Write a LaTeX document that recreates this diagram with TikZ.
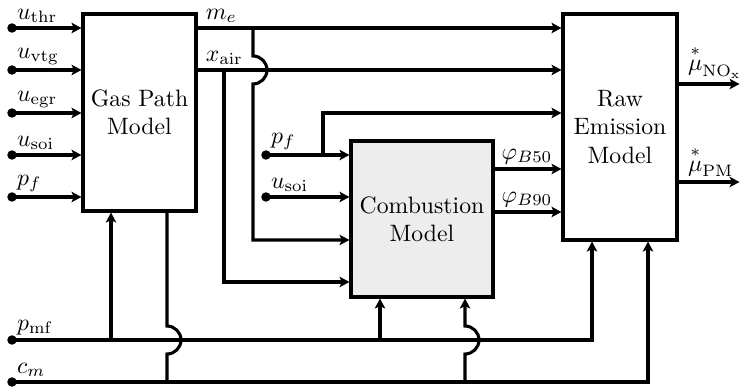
\documentclass[tikz,border=0pt]{standalone}
\usepackage{amsmath}
\usetikzlibrary{arrows.meta}
\begin{document}
\begin{tikzpicture}[x=0.422pt,y=-0.422pt,
  line width=1.3pt,
  arr/.style={-{Stealth[length=4.2pt,width=4.4pt,inset=1pt]}},
  blk/.style={draw,line width=1.3pt,inner sep=0pt,align=center},
  lab/.style={inner sep=1.5pt,anchor=south west},
  dot/.style={circle,fill,inner sep=0pt,minimum size=4pt}]
\useasboundingbox (0,0) rectangle (740,387);
% blocks
\node[blk,minimum width={113*0.422pt},minimum height={197*0.422pt}] (gas) at (139.5,112.5) {Gas Path\\Model};
\node[blk,minimum width={114*0.422pt},minimum height={226*0.422pt}] (raw) at (620,127) {Raw\\Emission\\Model};
\node[blk,fill=black!7,minimum width={142*0.422pt},minimum height={156*0.422pt}] (comb) at (422,219) {Combustion\\Model};
% left inputs
\foreach \n/\y/\t in {uthr/28/{u_{\mathrm{thr}}},uvtg/70/{u_{\mathrm{vtg}}},uegr/113/{u_{\mathrm{egr}}},usoi/155/{u_{\mathrm{soi}}},pf/197/{p_f}}{
  \node[dot] (\n) at (12,\y) {};
  \node[lab] (\n l) at (\n.center) {$\t$};
  \draw[arr] (\n.center) -- (\n.center -| gas.west);
}
% gas path outputs
\coordinate (me) at (196,28);
\coordinate (xair) at (196,70);
\node[lab] (mel) at ([xshift=2pt]me) {$m_e$};
\node[lab] (xairl) at ([xshift=2pt]xair) {$x_{\mathrm{air}}$};
\draw[arr] (me) -- (me -| raw.west);
\draw[arr] (xair) -- (xair -| raw.west);
\coordinate (mebr) at (253,28);
\coordinate (xairbr) at (224,70);
\draw[arr] (mebr) -- (253,56) arc[start angle=90,end angle=-90,radius=5.9pt] -- (253,240) -- (253,240 -| comb.west);
\draw[arr] (xairbr) -- (224,282) -- (224,282 -| comb.west);
% combustion inputs
\node[dot] (pfc) at (266,155) {};
\node[lab] (pfcl) at (pfc.center) {$p_f$};
\draw[arr] (pfc.center) -- (pfc.center -| comb.west);
\coordinate (pfbr) at (323,155);
\draw[arr] (pfbr) -- (323,113) -- (323,113 -| raw.west);
\node[dot] (usoic) at (266,197) {};
\node[lab] (usoicl) at (usoic.center) {$u_{\mathrm{soi}}$};
\draw[arr] (usoic.center) -- (usoic.center -| comb.west);
% combustion outputs
\coordinate (b50) at (493,169);
\coordinate (b90) at (493,212);
\node[lab] (b50l) at ([xshift=1.5pt]b50) {$\varphi_{B50}$};
\node[lab] (b90l) at ([xshift=1.5pt]b90) {$\varphi_{B90}$};
\draw[arr] (b50) -- (b50 -| raw.west);
\draw[arr] (b90) -- (b90 -| raw.west);
% raw outputs
\coordinate (nox) at (677,84);
\coordinate (pm) at (677,182);
\coordinate (noxe) at (739.5,84);
\coordinate (pme) at (739.5,182);
\node[lab] (noxl) at ([xshift=2.5pt]nox) {$\overset{*}{\mu}_{\mathrm{NO_x}}$};
\node[lab] (pml) at ([xshift=2.5pt]pm) {$\overset{*}{\mu}_{\mathrm{PM}}$};
\draw[arr] (nox) -- (noxe);
\draw[arr] (pm) -- (pme);
% bottom inputs
\node[dot] (pmf) at (12,340) {};
\node[lab] (pmfl) at (pmf.center) {$p_{\mathrm{mf}}$};
\node[dot] (cm) at (12,382) {};
\node[lab] (cml) at (cm.center) {$c_m$};
\draw[arr] (pmf.center) -- (592,340) -- (592,340 |- raw.south);
\draw[arr] (111,340) -- (111,340 |- gas.south);
\draw[arr] (380,340) -- (380,340 |- comb.south);
\draw[arr] (cm.center) -- (648,382) -- (648,382 |- raw.south);
\draw (167,382) -- (167,354) arc[start angle=-90,end angle=90,radius=5.9pt] -- (167,340 |- gas.south);
\draw[arr] (465,382) -- (465,354) arc[start angle=-90,end angle=90,radius=5.9pt] -- (465,340 |- comb.south);
\end{tikzpicture}
\end{document}
